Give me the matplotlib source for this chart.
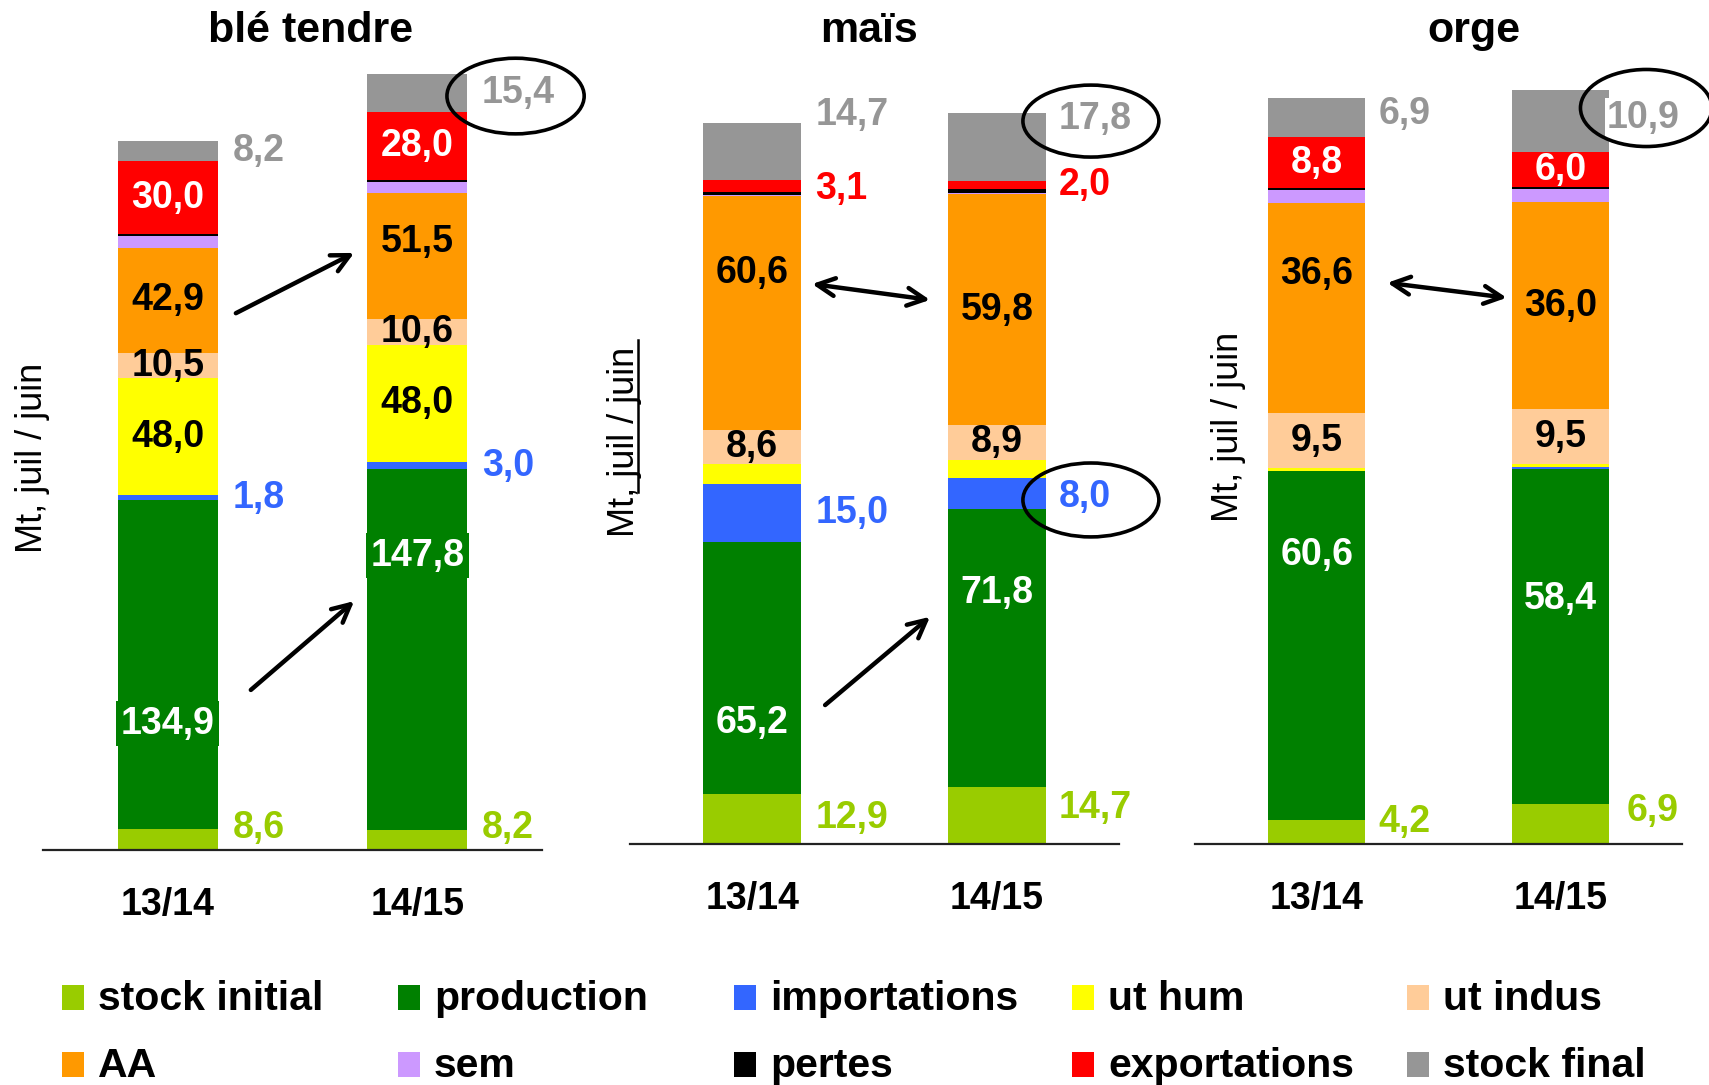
import matplotlib
matplotlib.use('Agg')
import matplotlib.pyplot as plt
from matplotlib.patches import Ellipse, Rectangle
from matplotlib.lines import Line2D

plt.rcParams['font.family'] = ['Liberation Sans', 'DejaVu Sans']

crops = ['blé tendre', 'maïs', 'orge']
years = ['13/14', '14/15']

# one list per series, [crop][campaign], Mt
stock_initial = [[8.6, 8.2], [12.9, 14.7], [4.2, 6.9]]
production = [[134.9, 147.8], [65.2, 71.8], [60.6, 58.4]]
importations = [[1.8, 3.0], [15.0, 8.0], [0.1, 0.3]]
ut_hum = [[48.0, 48.0], [5.2, 4.8], [0.5, 0.5]]
ut_indus = [[10.5, 10.6], [8.6, 8.9], [9.5, 9.5]]
aa = [[42.9, 51.5], [60.6, 59.8], [36.6, 36.0]]
sem = [[5.0, 4.8], [0.3, 0.3], [2.3, 2.3]]
pertes = [[0.7, 0.7], [0.6, 0.9], [0.3, 0.4]]
exportations = [[30.0, 28.0], [3.1, 2.0], [8.8, 6.0]]
stock_final = [[8.2, 15.4], [14.7, 17.8], [6.9, 10.9]]

series = [
    ('stock initial', stock_initial, '#99CC00'),
    ('production', production, '#008000'),
    ('importations', importations, '#3366FF'),
    ('ut hum', ut_hum, '#FFFF00'),
    ('ut indus', ut_indus, '#FFCC99'),
    ('AA', aa, '#FF9900'),
    ('sem', sem, '#CC99FF'),
    ('pertes', pertes, '#000000'),
    ('exportations', exportations, '#FF0000'),
    ('stock final', stock_final, '#969696'),
]

W, H = 1709, 1085
# axes layout in pixels: left, right, baseline, px per Mt
panels = [(43, 542, 850, 2.44), (630, 1119, 844, 3.87), (1195, 1682, 844, 5.75)]
TOP = 60

# labels drawn inside the bar: crops ; text colour
inside = {'production': ([0, 1, 2], 'white'), 'ut indus': ([0, 1, 2], 'black'),
          'AA': ([0, 1, 2], 'black'), 'ut hum': ([0], 'black'),
          'exportations': ([0, 2], 'white')}
# labels drawn right of the bar
outside = {'stock initial': [0, 1, 2], 'importations': [0, 1], 'stock final': [0, 1, 2],
           'exportations': [1]}
# vertical position of label inside its segment (fraction), default 0.5
frac = {('production', 0): [0.32, 0.76], ('production', 1): [0.28, 0.70],
        ('production', 2): [0.76, 0.61], ('AA', 1): [0.67, 0.5], ('AA', 0): [0.5, 0.61],
        ('AA', 2): [0.66, 0.5], ('stock initial', 0): [1.05, 1.1],
        ('stock initial', 1): [0.52, 0.63], ('stock initial', 2): [0.91, 0.83],
        ('stock final', 1): [1.15, 0.9], ('stock final', 2): [0.59, 0.55],
        ('exportations', 1): [0.3, 0.55], ('importations', 1): [0.5, 0.4]}
out_dx = [[0.06, 0.06], [0.058, 0.055], [0.054, 0.074]]


def fmt(v):
    return f'{v:.1f}'.replace('.', ',')


fig = plt.figure(figsize=(W / 100, H / 100), dpi=100)
axes = []
for c, (l, r, base, sc) in enumerate(panels):
    ax = fig.add_axes([l / W, (H - base) / H, (r - l) / W, (base - TOP) / H])
    ax.set_xlim(-0.5, 1.5)
    ax.set_ylim(0, (base - TOP) / sc)
    for s in ['top', 'left', 'right']:
        ax.spines[s].set_visible(False)
    ax.spines['bottom'].set_linewidth(1.6)
    ax.spines['bottom'].set_color('#222222')
    ax.set_yticks([])
    ax.set_xticks([0, 1], years)
    ax.tick_params(axis='x', length=0, pad=27, labelsize=27)
    for t in ax.get_xticklabels():
        t.set_fontweight('bold')

    for b in range(2):
        bottom = 0
        for name, vals, col in series:
            v = vals[c][b]
            ax.bar(b, v, 0.4, bottom=bottom, color=col, linewidth=0)
            f = frac.get((name, c), [0.5, 0.5])[b]
            y = bottom + v * f
            if name in inside and c in inside[name][0]:
                bbox = None
                if name == 'production' and c == 0:
                    bbox = dict(boxstyle='square,pad=0.12', fc=col, ec='none')
                ax.text(b, y, fmt(v), ha='center', va='center', fontsize=27,
                        fontweight='bold', color=inside[name][1], bbox=bbox)
            elif name in outside and c in outside[name]:
                bbox = None
                dx = out_dx[c][b]
                if name == 'stock final' and c == 2 and b == 1:
                    dx = -0.01
                    bbox = dict(boxstyle='square,pad=0.05', fc='white', ec='none')
                ax.text(b + 0.2 + dx, y, fmt(v), ha='left', va='center', fontsize=27,
                        fontweight='bold', color=col, bbox=bbox)
            bottom += v
    axes.append(ax)

# arrows between campaigns
arr = dict(lw=3.2, color='black', mutation_scale=32, shrinkA=0, shrinkB=0)
axes[0].annotate('', xy=(0.747, 244.7), xytext=(0.273, 220), arrowprops=dict(arrowstyle='->', **arr))
axes[0].annotate('', xy=(0.747, 102), xytext=(0.333, 65.6), arrowprops=dict(arrowstyle='->', **arr))
axes[1].annotate('', xy=(0.727, 140.6), xytext=(0.245, 144.7), arrowprops=dict(arrowstyle='<->', **arr))
axes[1].annotate('', xy=(0.727, 58.7), xytext=(0.298, 35.9), arrowprops=dict(arrowstyle='->', **arr))
axes[2].annotate('', xy=(0.78, 95.0), xytext=(0.29, 97.6), arrowprops=dict(arrowstyle='<->', **arr))

# highlight circles
for ax, xy, w, h in [(axes[0], (1.394, 309), 0.55, 31), (axes[1], (1.385, 186.8), 0.556, 18.6),
                     (axes[1], (1.385, 88.9), 0.556, 19.1), (axes[2], (1.353, 128), 0.54, 13.4)]:
    ax.add_patch(Ellipse(xy, w, h, fill=False, ec='black', lw=2.6, clip_on=False, zorder=5))

# titles
for name, x in zip(crops, [311, 869, 1474]):
    fig.text(x / W, 1 - 31 / H, name, ha='center', va='center', fontsize=31, fontweight='bold')

# y labels
for x, y in [(33, 458), (624, 442), (1229, 427)]:
    fig.text(x / W, 1 - y / H, 'Mt, juil / juin', rotation=90, ha='center', va='center', fontsize=26)
fig.add_artist(Line2D([638 / W, 638 / W], [1 - 340 / H, 1 - 492 / H], color='black', lw=1.8))

# legend, 2 rows x 5 columns
col_x = [62, 398, 734, 1072, 1407]
row_y = [1010, 1077]
for i, (name, vals, col) in enumerate(series):
    x0 = col_x[i % 5]
    y0 = row_y[i // 5]
    fig.add_artist(Rectangle((x0 / W, 1 - y0 / H), 22 / W, 25 / H, fc=col, ec='none',
                             transform=fig.transFigure))
    fig.text((x0 + 36) / W, 1 - y0 / H, name, ha='left', va='baseline', fontsize=29.5,
             fontweight='bold')

fig.savefig('out.png', dpi=100)
